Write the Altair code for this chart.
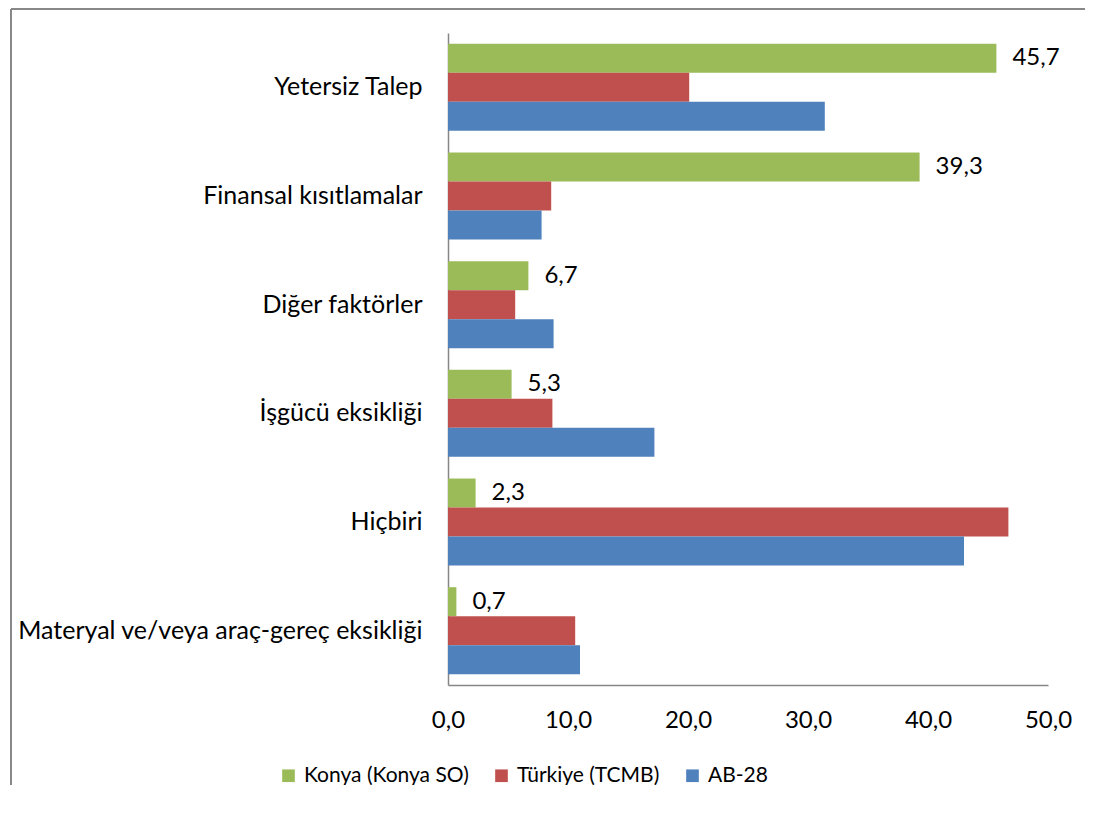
import altair as alt
import pandas as pd

categories = ["Yetersiz Talep", "Finansal kısıtlamalar", "Diğer faktörler",
              "İşgücü eksikliği", "Hiçbiri", "Materyal ve/veya araç-gereç eksikliği"]
series = ["Konya (Konya SO)", "Türkiye (TCMB)", "AB-28"]
konya = [45.7, 39.3, 6.7, 5.3, 2.3, 0.7]
turkiye = [20.1, 8.6, 5.6, 8.7, 46.7, 10.6]
ab28 = [31.4, 7.8, 8.8, 17.2, 43.0, 11.0]
colors = ["#9BBB59", "#C0504D", "#4F81BD"]

rows = []
for s, vals in zip(series, [konya, turkiye, ab28]):
    for c, v in zip(categories, vals):
        rows.append({"cat": c, "series": s, "value": v,
                     "label": f"{v:.1f}".replace(".", ",")})
df = pd.DataFrame(rows)

FONT = "Lato"
W, H = 600, 652
RP = 37

y_enc = alt.Y("cat:N", sort=categories, title=None,
              scale=alt.Scale(paddingInner=0.2, paddingOuter=0.1),
              axis=alt.Axis(labelFontSize=25, labelFont=FONT, labelColor="#000",
                            ticks=False, labelPadding=26, domainColor="#868686",
                            domainWidth=1.5, labelLimit=450))
yoff = alt.YOffset("series:N", sort=series, scale=alt.Scale(domain=series))

bars = alt.Chart(df).mark_bar().encode(
    x=alt.X("value:Q", scale=alt.Scale(domain=[0, 50]), title=None,
            axis=alt.Axis(values=[0, 10, 20, 30, 40, 50], grid=False, ticks=False,
                          labelFlush=False,
                          labelFontSize=24, labelFont=FONT, labelColor="#000",
                          labelPadding=23, domainColor="#868686", domainWidth=1.5,
                          labelExpr="replace(format(datum.value, '.1f'), '.', ',')")),
    y=y_enc,
    yOffset=yoff,
    color=alt.Color("series:N", sort=series,
                    scale=alt.Scale(domain=series, range=colors),
                    legend=alt.Legend(title=None, orient="none", direction="horizontal",
                                      legendX=-170, legendY=732, labelLimit=400,
                                      labelFontSize=21, labelFont=FONT, labelColor="#000",
                                      symbolType="square", symbolSize=160,
                                      symbolStrokeWidth=0, columnPadding=22,
                                      labelOffset=5)),
)

text = alt.Chart(df).transform_filter(
    alt.datum.series == series[0]
).mark_text(align="left", baseline="middle", dx=16, fontSize=24, font=FONT,
            color="#000").encode(
    x="value:Q",
    y=alt.Y("cat:N", sort=categories),
    yOffset=yoff,
    text="label:N",
)

frame_df = pd.DataFrame({"a": [0]})
left_line = alt.Chart(frame_df).mark_rule(color="#888888", strokeWidth=2).encode(
    x=alt.value(-437), y=alt.value(-24), y2=alt.value(H + 100))
top_line = alt.Chart(frame_df).mark_rule(color="#888888", strokeWidth=2).encode(
    x=alt.value(-437), x2=alt.value(W + RP + 5), y=alt.value(-24))

chart = alt.layer(bars, text, left_line, top_line).properties(
    width=W, height=H,
    background="white",
    autosize=alt.AutoSizeParams(type="none"),
    padding={"left": 440, "top": 25, "right": RP, "bottom": 100},
).configure_view(stroke="transparent", strokeWidth=0, strokeOpacity=0)

chart.save("out.html", embed_options={"renderer": "svg", "actions": False})
